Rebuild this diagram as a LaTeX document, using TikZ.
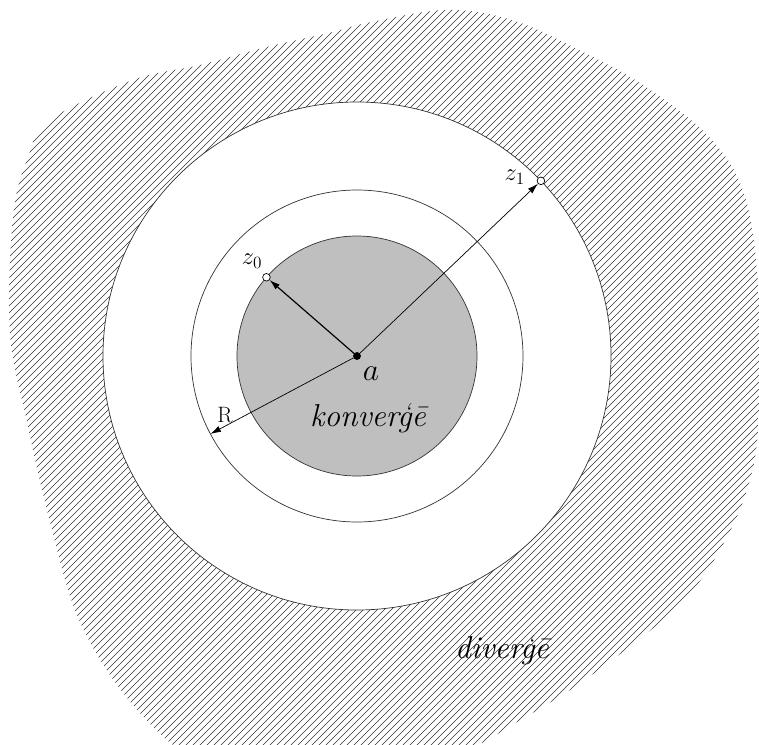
\RequirePackage{fix-cm}
\documentclass[tikz,border=0pt]{standalone}
\usepackage{fontspec}
\usetikzlibrary{arrows.meta,positioning}

\newcommand{\bigfont}{\fontsize{27}{30}\selectfont}
\newcommand{\zfont}{\fontsize{21}{24}\selectfont}

\begin{document}
\begin{tikzpicture}[x=0.03cm, y=0.03cm,
    ring/.style={line width=0.6pt, draw=black!80},
    hatch/.style={line width=0.45pt, black!80},
    pnt/.style={circle, draw, line width=0.6pt, inner sep=0pt, minimum size=6.5pt, fill=white},
    vec/.style={-{Latex[length=9pt, width=5.5pt]}}]
  % page frame, origin at the centre a
  \useasboundingbox (-357,-388) rectangle (402,356);

  % divergence region (hatched blob)
  \begin{scope}
    \clip plot[smooth cycle, tension=0.6] coordinates {
      (10,333) (89,346) (155,336) (222,306) (289,269) (355,216) (389,156)
      (402,56) (402,-49) (395,-116) (369,-183) (322,-249) (229,-323)
      (155,-369) (118,-390) (60,-410) (-60,-420) (-157,-405) (-224,-349)
      (-277,-266) (-307,-166) (-330,-66) (-347,23) (-344,139) (-329,199)
      (-307,236) (-224,276) (-157,291) (-90,309) (-24,324)};
    \foreach \c in {-720,-713,...,800}
      \draw[hatch] ({\c-440},-440) -- ({\c+440},440);
  \end{scope}

  % circles
  \draw[ring, fill=white] (0,0) circle (254);
  \draw[ring] (0,0) circle (166);
  \draw[ring, fill=black!25] (0,0) circle (120);

  % points
  \node[pnt, fill=black, minimum size=6pt] (a) at (0,0) {};
  \node[pnt] (z0) at (139:120) {};
  \node[pnt] (z1) at (43.6:254) {};
  \coordinate (rtip) at (208:166);

  % radii
  \draw[vec, line width=1pt] (a) -- (z0);
  \draw[vec, line width=0.6pt] (a) -- (z1);
  \draw[vec, line width=0.6pt] (a) -- (rtip);

  % labels
  \node[font=\zfont, inner sep=0pt, above left=5pt and 1pt of z0] (tz0) {$z_0$};
  \node[font=\zfont, inner sep=0pt, left=10pt of z1, yshift=3pt] (tz1) {$z_1$};
  \node[font=\bigfont] (ta) at (14,-18) {$a$};
  \node[font=\fontsize{19}{22}\selectfont] (tr) at (-132,-59) {R};
  \node[font=\bigfont\itshape] (conv) at (11,-62) {konverģē};
  \node[font=\bigfont\itshape] (div) at (145,-294) {diverģē};
\end{tikzpicture}
\end{document}
